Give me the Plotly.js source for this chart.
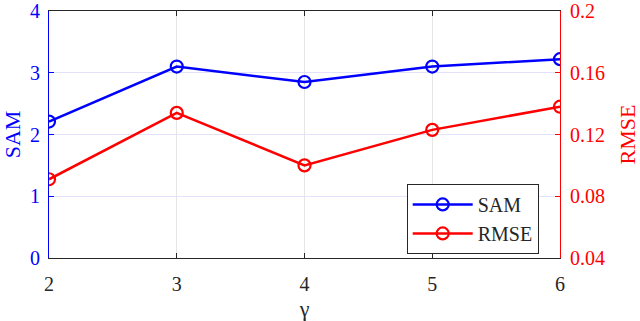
<!DOCTYPE html>
<html>
<head>
<meta charset="utf-8">
<script src="https://cdn.plot.ly/plotly-3.0.1.min.js"></script>
<style>
  html, body { margin: 0; padding: 0; background: #fff; }
  #chart { width: 640px; height: 321px; }
</style>
</head>
<body>
<div id="chart"></div>
<script>
// gamma values on x, SAM on left axis, RMSE on right axis
var gammaVals = [2, 3, 4, 5, 6];
var samVals = [2.21, 3.10, 2.85, 3.10, 3.22];
var rmseVals = [0.091, 0.134, 0.100, 0.123, 0.138];
var samTicks = [0, 1, 2, 3, 4];
var rmseTicks = [0.04, 0.08, 0.12, 0.16, 0.2];

var serif = 'Liberation Serif';

var sam = {
  x: gammaVals,
  y: samVals,
  name: 'SAM',
  type: 'scatter',
  mode: 'lines+markers',
  line: {color: '#0000ff', width: 2.5},
  marker: {symbol: 'circle-open', size: 12, color: '#0000ff', line: {width: 2.2}},
  yaxis: 'y'
};

var rmse = {
  x: gammaVals,
  y: rmseVals,
  name: 'RMSE',
  type: 'scatter',
  mode: 'lines+markers',
  line: {color: '#ff0000', width: 2.5},
  marker: {symbol: 'circle-open', size: 12, color: '#ff0000', line: {width: 2.2}},
  yaxis: 'y2'
};

var layout = {
  width: 640,
  height: 321,
  margin: {l: 49, r: 80, t: 11, b: 63},
  paper_bgcolor: '#ffffff',
  plot_bgcolor: '#ffffff',
  font: {family: serif, size: 20, color: '#262626'},
  showlegend: true,
  legend: {
    x: 0.70, y: 0.30, xanchor: 'left', yanchor: 'top',
    bgcolor: '#ffffff',
    bordercolor: '#262626',
    borderwidth: 1,
    itemwidth: 60,
    font: {family: serif, size: 20, color: '#262626'}
  },
  xaxis: {
    range: [2, 6],
    tickvals: gammaVals,
    ticktext: gammaVals.map(String),
    ticks: 'inside',
    ticklen: 5,
    tickcolor: '#262626',
    showline: true,
    linecolor: '#262626',
    linewidth: 1,
    mirror: 'ticks',
    showgrid: true,
    gridcolor: '#e6e6e6',
    zeroline: false,
    ticklabelstandoff: 8,
    ticklabeloverflow: 'allow',
    tickfont: {family: serif, size: 20, color: '#262626'},
    title: {text: 'γ', font: {family: serif, size: 22, color: '#262626'}, standoff: 14}
  },
  yaxis: {
    range: [0, 4],
    tickvals: samTicks,
    ticktext: samTicks.map(String),
    ticks: 'inside',
    ticklen: 5,
    tickcolor: '#0000ff',
    showline: true,
    linecolor: '#0000ff',
    linewidth: 1,
    showgrid: true,
    gridcolor: '#e2e2fa',
    zeroline: false,
    ticklabelstandoff: 4,
    ticklabeloverflow: 'allow',
    tickfont: {family: serif, size: 20, color: '#0000ff'},
    title: {text: 'SAM', font: {family: serif, size: 22, color: '#0000ff'}, standoff: 8}
  },
  yaxis2: {
    range: [0.04, 0.2],
    tickvals: rmseTicks,
    ticktext: rmseTicks.map(String),
    overlaying: 'y',
    side: 'right',
    ticks: 'inside',
    ticklen: 5,
    tickcolor: '#ff0000',
    showline: true,
    linecolor: '#ff0000',
    linewidth: 1,
    showgrid: false,
    zeroline: false,
    ticklabelstandoff: 5,
    ticklabeloverflow: 'allow',
    tickfont: {family: serif, size: 20, color: '#ff0000'},
    title: {text: 'RMSE', font: {family: serif, size: 22, color: '#ff0000'}, standoff: 25}
  }
};

Plotly.newPlot('chart', [sam, rmse], layout, {displayModeBar: false, staticPlot: true});
</script>
</body>
</html>
